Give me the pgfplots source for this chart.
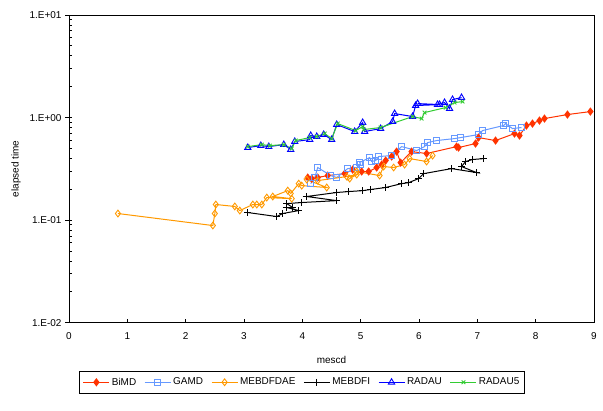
\documentclass[border=0pt]{standalone}
\usepackage{pgfplots}
\pgfplotsset{compat=1.18}
\usepackage{fontspec}
\setmainfont{Liberation Sans}
\definecolor{cBiMD}{HTML}{FF3300}
\definecolor{cGAMD}{HTML}{6699FF}
\definecolor{cDAE}{HTML}{FF9900}
\definecolor{cRADAU}{HTML}{0000FF}
\definecolor{cRADAU5}{HTML}{33CC33}
\begin{document}
\fontsize{10}{12}\selectfont
\begin{tikzpicture}
\begin{axis}[
  name=ax,
  scale only axis,
  width=525bp, height=307.7bp,
  xmin=0, xmax=9, ymode=log, ymin=0.01, ymax=10,
  xtick={0,1,2,3,4,5,6,7,8,9},
  xticklabels={0,1,2,3,4,5,6,7,8,9},
  ytick={0.01,0.1,1,10},
  yticklabels={1.E-02,1.E-01,1.E+00,1.E+01},
  xtick pos=bottom, ytick pos=left,
  tick align=inside,
  major tick length=4bp, minor tick length=3bp,
  major y tick style={xshift=-4bp},
  tick style={black, line width=0.8bp},
  axis line style={line width=1bp},
  xticklabel style={font=\fontsize{10}{12}\selectfont, yshift=-6bp},
  yticklabel style={font=\fontsize{10}{12}\selectfont, xshift=-4bp},
  every axis x label/.style={at={(axis description cs:0.5,0)}, yshift=-37bp, anchor=center},
  every axis y label/.style={at={(axis description cs:0,0.5)}, xshift=-53bp, rotate=90, anchor=center},
  xlabel={mescd}, ylabel={elapsed time},
  label style={font=\fontsize{10}{12}\selectfont},
  legend columns=6,
  legend style={at={(axis description cs:0.444,-0.157)}, anchor=north, draw=black, line width=0.8bp,
    font=\fontsize{10}{12}\selectfont, inner xsep=3bp, inner ysep=4.5bp,
    /tikz/every even column/.append style={column sep=6bp}},
  legend image code/.code={\draw[mark repeat=2,mark phase=2,#1] plot coordinates {(0bp,0bp) (13bp,0bp) (26bp,0bp)};},
  every axis plot/.append style={line width=1bp},
]
\addplot[color=cBiMD, mark=diamond*, mark size=3.4bp, mark options={solid,fill=cBiMD}] coordinates {
(4.092,0.260) (4.264,0.260) (4.161,0.254) (4.435,0.272) (4.726,0.284) (4.863,0.311)
(5.017,0.298) (5.137,0.298) (5.274,0.326) (5.360,0.348) (5.428,0.381) (5.531,0.417)
(5.616,0.466) (5.685,0.364) (5.873,0.466) (6.130,0.446) (6.644,0.521) (6.678,0.510)
(6.969,0.558) (7.021,0.638) (7.312,0.597) (7.637,0.698) (7.723,0.668) (7.842,0.836)
(7.945,0.874) (8.065,0.935) (8.151,0.978) (8.545,1.070) (8.938,1.144)
};
\addlegendentry{BiMD}
\addplot[color=cGAMD, mark=square, mark size=2.9bp, mark options={solid,line width=0.9bp}] coordinates {
(4.144,0.227) (4.212,0.260) (4.264,0.326) (4.486,0.272) (4.589,0.260) (4.777,0.318)
(4.932,0.326) (5.000,0.348) (4.983,0.364) (5.154,0.408) (5.188,0.373) (5.257,0.381)
(5.308,0.417) (5.531,0.426) (5.702,0.521) (5.959,0.477) (6.096,0.521) (6.147,0.570)
(6.301,0.597) (6.610,0.624) (6.712,0.638) (7.021,0.683) (7.089,0.747) (7.449,0.836)
(7.483,0.874) (7.603,0.781) (7.757,0.800)
};
\addlegendentry{GAMD}
\addplot[color=cDAE, mark=diamond, mark size=3.4bp, mark options={solid,line width=0.9bp}] coordinates {
(0.839,0.116) (2.466,0.0886) (2.500,0.116) (2.517,0.142) (2.842,0.136) (2.928,0.124)
(3.151,0.142) (3.219,0.142) (3.305,0.142) (3.390,0.166) (3.818,0.162) (3.493,0.170)
(3.750,0.194) (3.801,0.182) (3.938,0.227) (3.990,0.217) (4.418,0.208) (4.075,0.249)
(4.264,0.243) (4.760,0.266) (4.932,0.278) (4.812,0.254) (4.932,0.298) (5.325,0.272)
(5.394,0.333) (5.565,0.326) (5.753,0.348) (5.839,0.398) (6.130,0.373) (6.233,0.426)
};
\addlegendentry{MEBDFDAE}
\addplot[color=black, mark=+, mark size=3.4bp, mark options={solid,line width=0.9bp}] coordinates {
(3.065,0.1186) (3.562,0.1084) (3.664,0.116) (3.938,0.124) (3.733,0.1327) (3.836,0.1327)
(3.733,0.145) (3.990,0.1485) (4.589,0.155) (4.075,0.170) (4.589,0.186) (4.795,0.190)
(5.034,0.194) (5.171,0.199) (5.428,0.208) (5.702,0.227) (5.822,0.232) (5.993,0.254)
(6.079,0.284) (6.558,0.318) (6.986,0.291) (6.729,0.333) (6.798,0.373) (6.918,0.390)
(7.106,0.398)
};
\addlegendentry{MEBDFI}
\addplot[color=cRADAU, mark=triangle, mark size=3.6bp, mark options={solid,line width=0.9bp}] coordinates {
(3.065,0.510) (3.288,0.533) (3.425,0.521) (3.682,0.545) (3.801,0.488) (3.870,0.584)
(4.127,0.610) (4.144,0.668) (4.247,0.653) (4.366,0.683) (4.503,0.610) (4.589,0.855)
(4.897,0.731) (5.034,0.894) (5.068,0.731) (5.342,0.781) (5.548,0.914) (5.582,1.094)
(5.890,1.023) (5.942,1.309) (6.353,1.339) (5.976,1.369) (6.318,1.339) (6.438,1.400)
(6.524,1.224) (6.575,1.498) (6.729,1.566)
};
\addlegendentry{RADAU}
\addplot[color=cRADAU5, mark=x, mark size=2.6bp, mark options={solid,line width=0.9bp}] coordinates {
(3.065,0.521) (3.305,0.545) (3.442,0.533) (3.682,0.545) (3.818,0.499) (3.887,0.597)
(4.127,0.638) (4.247,0.653) (4.384,0.698) (4.503,0.624) (4.606,0.874) (4.914,0.747)
(5.034,0.817) (5.051,0.764) (5.342,0.800) (5.890,1.023) (6.045,0.978) (6.096,1.119)
(6.455,1.251) (6.610,1.400) (6.747,1.432)
};
\addlegendentry{RADAU5}
\end{axis}
\path ([xshift=-69bp,yshift=-87.3bp]ax.south west) rectangle ([xshift=9bp,yshift=15bp]ax.north east);
\end{tikzpicture}
\end{document}
